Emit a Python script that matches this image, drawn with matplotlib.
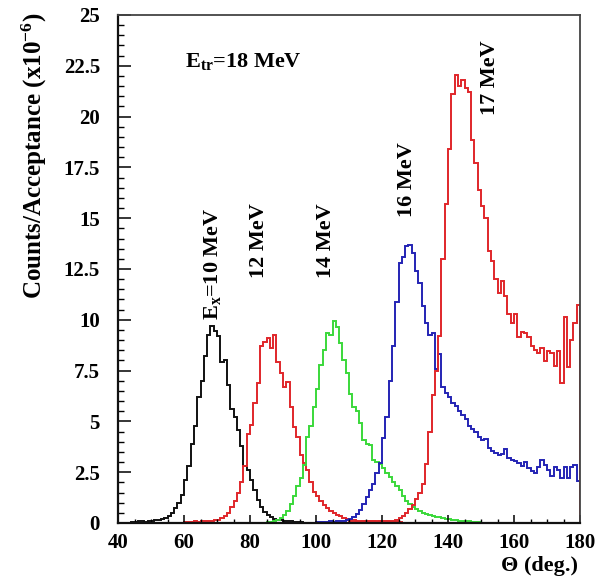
import matplotlib
matplotlib.use("Agg")
import matplotlib.pyplot as plt
from matplotlib.ticker import MultipleLocator, FuncFormatter
import numpy as np

plt.rcParams["font.family"] = "serif"
plt.rcParams["font.serif"] = ["Liberation Serif", "DejaVu Serif"]
plt.rcParams["font.weight"] = "bold"
plt.rcParams["mathtext.fontset"] = "custom"
plt.rcParams["mathtext.rm"] = "Liberation Serif:bold"
plt.rcParams["mathtext.it"] = "Liberation Serif:italic:bold"
plt.rcParams["mathtext.bf"] = "Liberation Serif:bold"

# 1 degree bins, 40 -> 180 deg
theta_min, theta_max = 40, 180

# Ex = 10 MeV (black), first bin at 44 deg
ex10_start = 44
ex10 = [0.05, 0.05, 0.1, 0.1, 0.05, 0.1,
        0.1, 0.15, 0.15, 0.2, 0.25,
        0.35, 0.5, 0.75, 1.0, 1.4, 2.1, 2.8, 3.9, 4.75, 6.2,
        7.0, 8.2, 9.25, 9.7, 9.45, 9.2, 7.9, 8.0, 6.8, 5.6,
        5.2, 4.6, 3.8, 2.8, 2.6, 2.1, 1.6, 1.15, 0.8, 0.55,
        0.4, 0.3, 0.2, 0.15, 0.15, 0.1, 0.1, 0.1, 0.05, 0.05, 0.05]

# 12 MeV (red)
ex12_start = 60
ex12 = [0.05, 0.05, 0.05, 0.1, 0.05, 0.1, 0.1, 0.1, 0.1, 0.15,
        0.15, 0.25, 0.35, 0.5, 0.8, 1.1, 1.5, 2.0, 2.8, 4.4,
        4.8, 5.9, 6.9, 8.7, 8.9, 9.1, 8.6, 9.25, 7.9, 7.4,
        6.7, 6.95, 5.7, 4.7, 4.25, 3.35, 2.95, 2.6, 2.0, 1.55,
        1.35, 1.1, 0.9, 0.75, 0.6, 0.5, 0.4, 0.35, 0.25, 0.2,
        0.15, 0.15, 0.1, 0.1, 0.1, 0.1, 0.1, 0.08, 0.1, 0.08,
        0.1, 0.08, 0.05, 0.05, 0.05, 0.05]

# 14 MeV (green)
ex14_start = 84
ex14 = [0.02, 0.03, 0.05, 0.08, 0.15, 0.25,
        0.4, 0.6, 0.95, 1.35, 1.8, 2.2, 2.85, 4.25, 4.75, 5.7,
        6.6, 7.8, 8.5, 9.35, 9.25, 9.95, 9.65, 8.85, 8.0, 7.4,
        6.35, 5.7, 5.5, 4.9, 4.1, 3.9, 3.85, 3.1, 3.0, 2.9,
        2.7, 2.45, 2.25, 2.0, 1.8, 1.6, 1.35, 1.1, 0.95, 0.8,
        0.7, 0.6, 0.5, 0.45, 0.4, 0.35, 0.3, 0.28, 0.25, 0.22,
        0.2, 0.17, 0.15, 0.12, 0.1, 0.1, 0.08, 0.06, 0.05, 0.04, 0.02]

# 16 MeV (blue)
ex16_start = 100
ex16 = [0.03, 0.05, 0.05, 0.05, 0.08, 0.05, 0.08, 0.1, 0.12, 0.15,
        0.2, 0.3, 0.45, 0.65, 0.95, 1.3, 1.6, 1.9, 2.45, 2.95,
        4.2, 5.2, 7.0, 8.7, 10.9, 12.8, 13.1, 13.65, 13.7, 13.3,
        12.4, 11.8, 10.7, 9.85, 9.25, 9.35, 7.6, 8.3, 6.7, 6.4,
        6.2, 5.9, 5.75, 5.5, 5.3, 5.1, 4.75, 4.65, 4.5, 4.25,
        4.1, 4.15, 3.7, 3.55, 3.45, 3.35, 3.4, 3.65, 3.2, 3.1,
        3.05, 2.95, 2.8, 3.0, 2.7, 2.55, 2.45, 2.75, 3.1, 2.85,
        2.6, 2.3, 2.75, 2.6, 2.2, 2.75, 2.2, 2.75, 2.85, 2.05]

# 17 MeV (red)
ex17_start = 110
ex17 = [0.03, 0.05, 0.05, 0.05, 0.08, 0.05, 0.08, 0.1, 0.05, 0.08,
        0.1, 0.08, 0.1, 0.1, 0.15, 0.25, 0.35, 0.5, 0.7, 0.9,
        1.2, 1.5, 1.9, 2.9, 4.5, 6.3, 7.5, 9.2, 13.0, 15.7,
        18.4, 21.1, 22.05, 21.5, 21.8, 21.4, 21.2, 18.85, 17.7, 16.4,
        15.6, 15.0, 13.4, 12.9, 12.0, 11.3, 11.9, 11.15, 10.3, 9.85,
        10.3, 9.15, 9.4, 9.35, 9.15, 8.7, 8.5, 8.35, 8.6, 7.95,
        8.45, 8.35, 7.75, 8.45, 6.9, 10.15, 7.7, 9.0, 9.85, 10.75]

series = [
    (ex10_start, ex10, "#111111"),
    (ex12_start, ex12, "#e0262a"),
    (ex14_start, ex14, "#3ad83a"),
    (ex16_start, ex16, "#2424b4"),
    (ex17_start, ex17, "#e0262a"),
]

# Label texts: (text, x, y bottom)
peak_labels = [
    (r"$\mathrm{E_x}$=10 MeV", 68.5, 10.0),
    ("12 MeV", 82.7, 12.06),
    ("14 MeV", 103.0, 12.06),
    ("16 MeV", 127.6, 15.06),
    ("17 MeV", 152.7, 20.08),
]

edges = np.arange(theta_min, theta_max + 1, 1)

fig = plt.figure(figsize=(6, 5.79), dpi=100)
ax = fig.add_axes([118 / 600, 1 - 523 / 579, 462 / 600, 508 / 579])

for start, vals, col in series:
    h = np.zeros(len(edges) - 1)
    i0 = start - theta_min
    h[i0:i0 + len(vals)] = vals
    ax.stairs(h, edges, baseline=0, color=col, linewidth=1.4)

for txt, x, y in peak_labels:
    ax.text(x, y, txt, rotation=90, ha="center", va="bottom", fontsize=16,
            fontweight="bold")

ax.text(60.3, 22.45, r"$\mathrm{E_{tr}}$=18 MeV", fontsize=16,
        fontweight="bold", va="baseline", ha="left")

ax.set_xlim(theta_min, theta_max)
ax.set_ylim(0, 25)
ax.xaxis.set_major_locator(MultipleLocator(20))
ax.xaxis.set_minor_locator(MultipleLocator(5))
ax.yaxis.set_major_locator(MultipleLocator(2.5))
ax.yaxis.set_minor_locator(MultipleLocator(0.5))
ax.yaxis.set_major_formatter(FuncFormatter(lambda v, p: "%g" % v))

ax.tick_params(axis="both", which="both", direction="in", top=False, right=False,
               labelsize=15)
ax.tick_params(axis="y", which="major", length=9, width=1.1, pad=13)
ax.tick_params(axis="y", which="minor", length=4.5, width=1.0)
ax.tick_params(axis="x", which="major", length=6, width=1.1, pad=7)
ax.tick_params(axis="x", which="minor", length=3, width=1.0)
for lab in ax.get_xticklabels() + ax.get_yticklabels():
    lab.set_fontweight("bold")

for side in ["left", "bottom"]:
    ax.spines[side].set_linewidth(1.6)
    ax.spines[side].set_color("#111111")
for side in ["top", "right"]:
    ax.spines[side].set_linewidth(1.3)
    ax.spines[side].set_color("#444444")

fig.text(34 / 600, 1 - 156 / 579, r"Counts/Acceptance (x10$^{-6}$)", rotation=90,
         ha="center", va="center", fontsize=18, fontweight="bold")
fig.text(578 / 600, 1 - 571 / 579, "\u0398 (deg.)", ha="right", va="baseline",
         fontsize=16, fontweight="bold")

fig.savefig("out.png", dpi=100)
